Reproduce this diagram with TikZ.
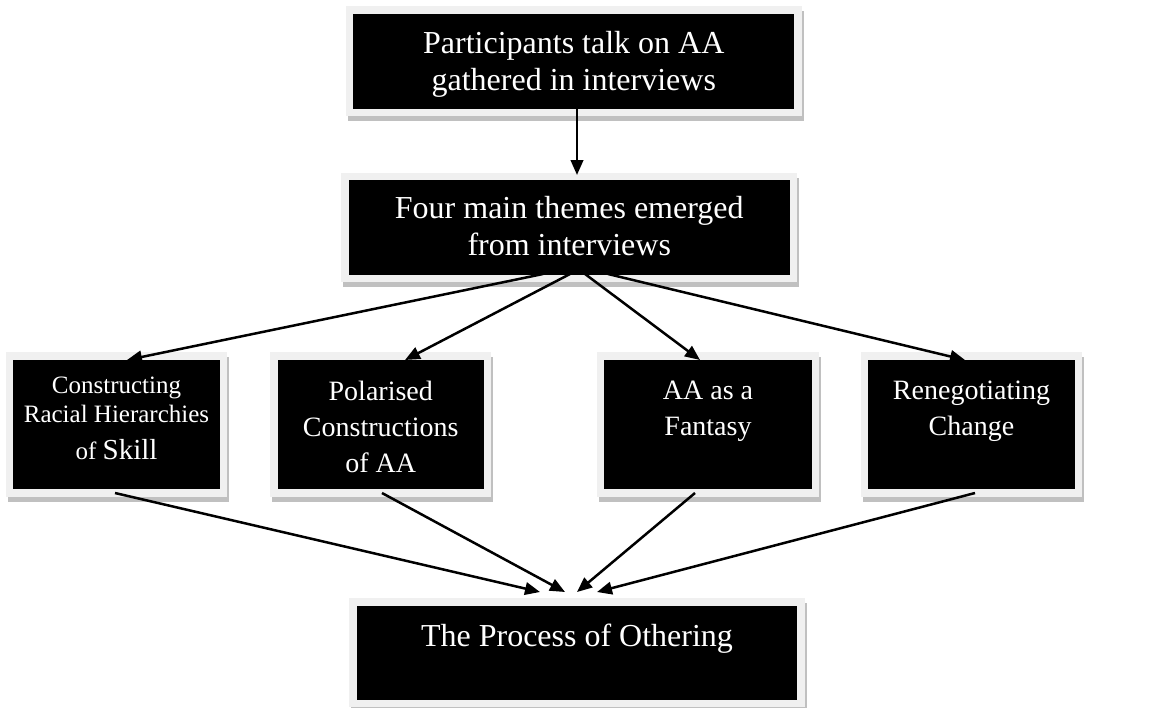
\documentclass[tikz,border=0pt]{standalone}
\usepackage{fontspec}
\setmainfont{Liberation Serif}
\usetikzlibrary{arrows.meta,shadows,calc}
\definecolor{framegray}{HTML}{F0F0F0}
\definecolor{shadowgray}{HTML}{C0C0C0}
\begin{document}
\begin{tikzpicture}[x=1pt,y=-1pt,
  box/.style={draw=framegray, fill=black, line width=7.5pt, inner sep=0pt, outer sep=0pt,
    general shadow={fill=shadowgray, draw=shadowgray, line width=7.5pt, shadow xshift=2pt, shadow yshift=-5pt}},
  bigtxt/.style={text=white, font=\fontsize{32}{37}\selectfont, align=center, inner sep=0pt, anchor=north},
  midtxt/.style={text=white, font=\fontsize{28}{36}\selectfont, align=center, inner sep=0pt, anchor=north},
  smalltxt/.style={text=white, font=\fontsize{25}{29}\selectfont, align=center, inner sep=0pt, anchor=north},
  conn/.style={draw=black, line width=2.5pt, -{Triangle[length=15pt,width=12.5pt]}}
]
\useasboundingbox (0,0) rectangle (1156,707);

% boxes
\node[box, minimum width=448.5pt, minimum height=102.5pt] (b1) at (573.75,61.25) {};
\node[box, minimum width=448.5pt, minimum height=102pt] (b2) at (569.25,227.5) {};
\node[box, minimum width=214pt, minimum height=137pt] (bA) at (116.5,424.5) {};
\node[box, minimum width=213.5pt, minimum height=137pt] (bB) at (380.75,424.5) {};
\node[box, minimum width=215pt, minimum height=137pt] (bC) at (708,424.5) {};
\node[box, minimum width=214pt, minimum height=137pt] (bD) at (971.5,424.5) {};
\node[box, minimum width=448pt, minimum height=101.5pt] (bE) at (577,652.75) {};

% texts
\node[bigtxt] (t1) at ($(b1.north)+(0,21)$) {Participants talk on AA\\gathered in interviews};
\node[bigtxt] (t2) at ($(b2.north)+(0,19.5)$) {Four main themes emerged\\from interviews};
\node[smalltxt] (tA) at ($(bA.north)+(0,21)$) {Constructing\\Racial Hierarchies\\[8pt]of {\fontsize{29}{29}\selectfont Skill}};
\node[midtxt] (tB) at ($(bB.north)+(0,25)$) {Polarised\\Constructions\\of AA};
\node[midtxt] (tC) at ($(bC.north)+(0,25)$) {AA as a\\Fantasy};
\node[midtxt] (tD) at ($(bD.north)+(0,25)$) {Renegotiating\\Change};
\node[bigtxt] (tE) at ($(bE.north)+(0,22)$) {The Process of Othering};

% connectors
\draw[conn] ($(b1.south)+(3.25,-4.5)$) -- ($(b2.north)+(7.75,-1.5)$);

\draw[conn] ($(b2.south)+(-26.25,-4.5)$) -- ($(bA.north)+(10.5,4)$);
\draw[conn] ($(b2.south)+(0.75,-4.5)$) -- ($(bB.north)+(24.25,4)$);
\draw[conn] ($(b2.south)+(15.75,-4.5)$) -- ($(bC.north)+(-8,4)$);
\draw[conn] ($(b2.south)+(38.75,-4.5)$) -- ($(bD.north)+(-6.5,4)$);

\draw[conn] ($(bA.south)+(-1.5,0)$) -- ($(bE.north)+(-37,-10)$);
\draw[conn] ($(bB.south)+(1.25,0)$) -- ($(bE.north)+(-12,-10)$);
\draw[conn] ($(bC.south)+(-13,0)$) -- ($(bE.north)+(0,-10)$);
\draw[conn] ($(bD.south)+(3.5,0)$) -- ($(bE.north)+(20,-10)$);
\end{tikzpicture}
\end{document}
